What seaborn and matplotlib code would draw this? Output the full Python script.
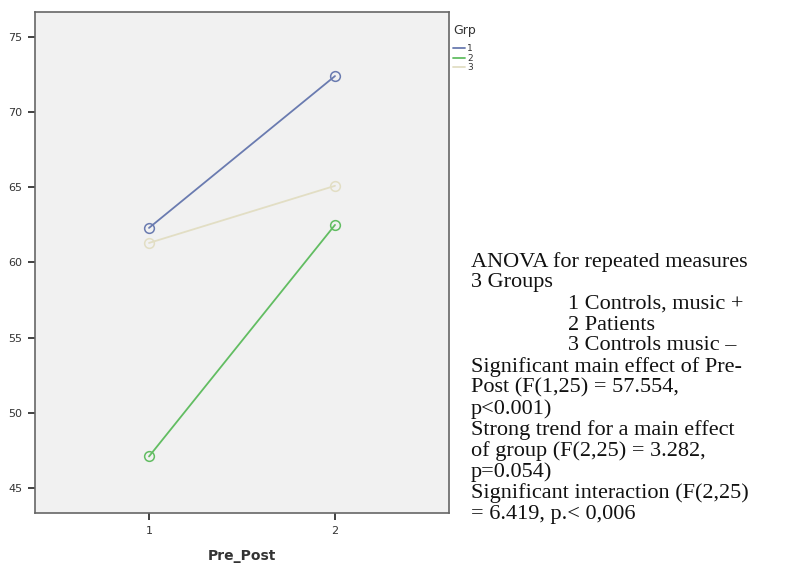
import matplotlib
matplotlib.use("Agg")
import matplotlib.pyplot as plt
import seaborn as sns
import pandas as pd
import numpy as np
from matplotlib.lines import Line2D

# ---- data ----
groups = ["1", "2", "3"]
pre_post = [1, 2]
grp1_values = [62.3, 72.4]
grp2_values = [47.1, 62.5]
grp3_values = [61.3, 65.1]
y_ticks = [45, 50, 55, 60, 65, 70, 75]
x_ticks = [1, 2]

annotation_lines = [
    ("ANOVA for repeated measures", 0),
    ("3 Groups", 0),
    ("1 Controls, music +", 1),
    ("2 Patients", 1),
    ("3 Controls music \u2013", 1),
    ("Significant main effect of Pre-", 0),
    ("Post (F(1,25) = 57.554,", 0),
    ("p<0.001)", 0),
    ("Strong trend for a main effect", 0),
    ("of group (F(2,25) = 3.282,", 0),
    ("p=0.054)", 0),
    ("Significant interaction (F(2,25)", 0),
    ("= 6.419, p.< 0,006", 0),
]

rows = []
for g, vals in zip(groups, [grp1_values, grp2_values, grp3_values]):
    for x, v in zip(pre_post, vals):
        rows.append({"Grp": g, "Pre_Post": x, "value": v})
df = pd.DataFrame(rows)

palette = {"1": "#6a7bb0", "2": "#62bd62", "3": "#e2dec4"}

sns.set_style("white")
fig = plt.figure(figsize=(7.86, 5.67), dpi=100)
W, H = 786, 567
ax = fig.add_axes([35 / W, 1 - 513 / H, (449 - 35) / W, (513 - 12) / H])
ax.set_facecolor("#f1f1f1")

sns.lineplot(data=df, x="Pre_Post", y="value", hue="Grp", palette=palette,
             marker="o", markersize=7, linewidth=1.3, legend=False, ax=ax)
for ln in ax.get_lines():
    c = ln.get_color()
    ln.set_markerfacecolor("none")
    ln.set_markeredgecolor(c)
    ln.set_markeredgewidth(1.1)

ax.set_xlim(0.387, 2.613)
ax.set_ylim(43.34, 76.66)
ax.set_xticks(x_ticks)
ax.set_yticks(y_ticks)
ax.set_xticklabels([str(t) for t in x_ticks], fontsize=8, color="#333333",
                   family="DejaVu Sans")
ax.set_yticklabels([str(t) for t in y_ticks], fontsize=8, color="#333333",
                   family="DejaVu Sans")
ax.tick_params(axis="both", direction="out", length=5, width=1.3,
               color="#333333", left=True, bottom=True, pad=4)
ax.set_xlabel("Pre_Post", fontsize=10, fontweight="bold", color="#333333",
              labelpad=10)
ax.set_ylabel("")
for s in ax.spines.values():
    s.set_color("#666666")
    s.set_linewidth(1.2)

# legend
handles = [Line2D([0], [0], color=palette[g], lw=1.3) for g in groups]
leg = fig.legend(handles, groups, title="Grp", loc="upper left",
                 bbox_to_anchor=(447 / W, 1 - 18 / H), frameon=False,
                 fontsize=6.5, title_fontsize=9, handlelength=1.3,
                 handletextpad=0.25, labelspacing=0.05, borderpad=0.2)
leg._legend_box.sep = 5
leg._legend_box.align = "left"
for t in leg.get_texts():
    t.set_color("#333333")
leg.get_title().set_color("#333333")

# annotation text
y0 = 262
dy = 21.0
for i, (line, indent) in enumerate(annotation_lines):
    x = 568 if indent else 471
    fig.text(x / W, 1 - (y0 + i * dy) / H, line, fontsize=16,
             family="Liberation Serif", color="#111111", va="center", ha="left")

fig.savefig("out.png", dpi=100, facecolor="white")
